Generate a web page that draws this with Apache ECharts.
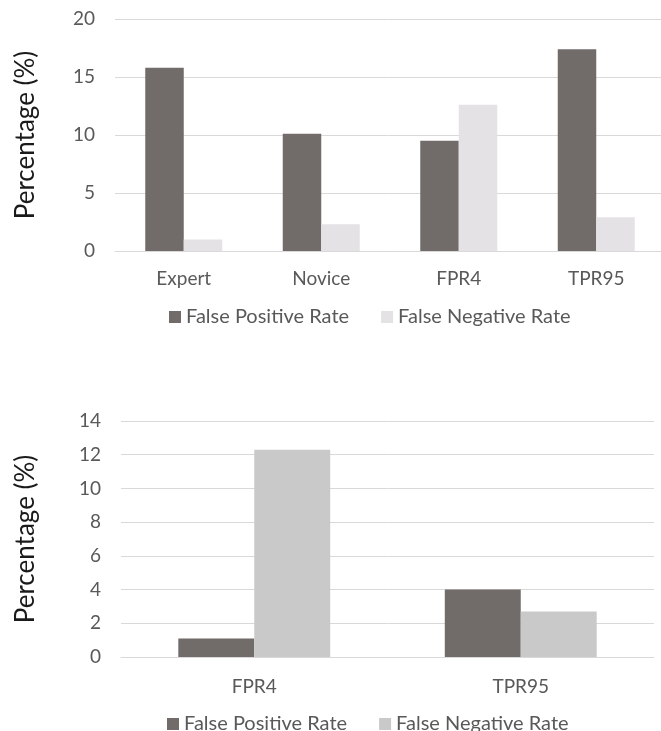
<!DOCTYPE html>
<html>
<head>
<meta charset="utf-8">
<script src="https://cdn.jsdelivr.net/npm/echarts@6/dist/echarts.min.js"></script>
<style>
html,body{margin:0;padding:0;background:#fff;}
#c1{position:absolute;left:0;top:0;width:661px;height:365px;}
#c2{position:absolute;left:0;top:365px;width:661px;height:366px;}
</style>
</head>
<body>
<div id="c1"></div>
<div id="c2"></div>
<script>
// Top chart data
const topCategories = ['Expert', 'Novice', 'FPR4', 'TPR95'];
const topFPR = [15.8, 10.1, 9.5, 17.4];
const topFNR = [1.0, 2.3, 12.6, 2.9];
const topTicks = { min: 0, max: 20, interval: 5 };

// Bottom chart data
const botCategories = ['FPR4', 'TPR95'];
const botFPR = [1.1, 4.0];
const botFNR = [12.3, 2.7];
const botTicks = { min: 0, max: 14, interval: 2 };

const seriesNames = ['False Positive Rate', 'False Negative Rate'];
const yName = 'Percentage (%)';

const FONT = 'Lato';
const darkCol = '#716b6a';

function makeOption(cfg) {
  return {
    animation: false,
    backgroundColor: 'transparent',
    textStyle: { fontFamily: FONT },
    grid: Object.assign({ outerBoundsMode: 'none', containLabel: false }, cfg.grid),
    legend: {
      data: seriesNames,
      left: cfg.legendLeft,
      top: cfg.legendTop,
      itemWidth: 12,
      itemHeight: 12,
      itemGap: 32,
      icon: 'rect',
      textStyle: { fontFamily: FONT, fontSize: 20, color: '#595959' }
    },
    xAxis: {
      type: 'category',
      data: cfg.categories,
      axisLine: { show: true, lineStyle: { color: '#d9d9d9', width: 1 } },
      axisTick: { show: false },
      axisLabel: { fontFamily: FONT, fontSize: 19, color: '#595959', margin: cfg.xLabelMargin }
    },
    yAxis: {
      type: 'value',
      min: cfg.ticks.min,
      max: cfg.ticks.max,
      interval: cfg.ticks.interval,
      name: yName,
      nameLocation: 'middle',
      nameRotate: 90,
      nameGap: cfg.nameGap,
      nameTextStyle: { fontFamily: FONT, fontSize: 26, color: '#1a1a1a' },
      axisLine: { show: false },
      axisTick: { show: false },
      splitLine: { lineStyle: { color: '#d9d9d9', width: 1 } },
      axisLabel: { fontFamily: FONT, fontSize: 19, color: '#595959', margin: 20 }
    },
    series: [
      {
        name: seriesNames[0], type: 'bar', data: cfg.fpr,
        barGap: '0%', barCategoryGap: cfg.catGap,
        itemStyle: { color: darkCol }
      },
      {
        name: seriesNames[1], type: 'bar', data: cfg.fnr,
        barGap: '0%', barCategoryGap: cfg.catGap,
        itemStyle: { color: cfg.fnColor }
      }
    ]
  };
}

const c1 = echarts.init(document.getElementById('c1'), null, { renderer: 'canvas' });
c1.setOption(makeOption({
  grid: { left: 115, top: 19, width: 550, height: 232 },
  categories: topCategories, fpr: topFPR, fnr: topFNR, ticks: topTicks,
  fnColor: '#e5e2e6', catGap: '44%', legendLeft: 164, legendTop: 302,
  xLabelMargin: 18, nameGap: 76
}));

const c2 = echarts.init(document.getElementById('c2'), null, { renderer: 'canvas' });
c2.setOption(makeOption({
  grid: { left: 121, top: 56, width: 533, height: 236 },
  categories: botCategories, fpr: botFPR, fnr: botFNR, ticks: botTicks,
  fnColor: '#c9c9c9', catGap: '43%', legendLeft: 162, legendTop: 344,
  xLabelMargin: 20, nameGap: 82
}));
</script>
</body>
</html>
